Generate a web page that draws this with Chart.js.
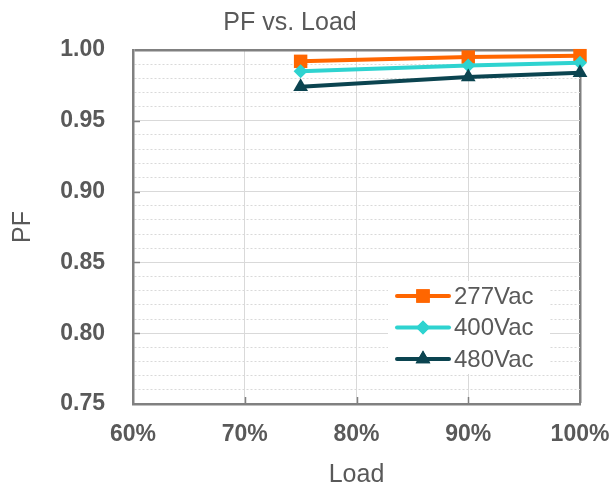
<!DOCTYPE html>
<html>
<head>
<meta charset="utf-8">
<script src="https://cdn.jsdelivr.net/npm/chart.js@4"></script>
<style>
  html, body { margin: 0; padding: 0; background: #fff; }
  #wrap { width: 609px; height: 488px; }
</style>
</head>
<body>
<div id="wrap"><canvas id="pfChart" width="609" height="488"></canvas></div>
<script>
// data
const loads = [75, 90, 100];
const pf277 = [0.992, 0.995, 0.996];
const pf400 = [0.985, 0.989, 0.991];
const pf480 = [0.974, 0.981, 0.984];
const seriesNames = ["277Vac", "400Vac", "480Vac"];

const xTicks = [60, 70, 80, 90, 100];
const yMin = 0.75, yMax = 1.00;

const FONT = "Arial, 'Liberation Sans', sans-serif";
const TEXT = "#595959";
const FRAME = "#808080";
const GRID = "#d9d9d9";

const colors = ["#ff6600", "#2ed3d0", "#0b4450"];
const markers = [
    { style: "rect", radius: 9.5 },
    { style: "rectRot", radius: 7 },
    { style: "triangle", radius: 8.5 }
];

function toPoints(vals) {
    return loads.map((x, i) => ({ x: x, y: vals[i] }));
}

const isMajor = v => Math.round(v * 100) % 5 === 0;

/* legend drawn inside the plot area, line + marker style */
const legendBox = {
    id: "legendBox",
    afterDatasetsDraw(chart) {
        const c = chart.ctx;
        c.save();
        c.fillStyle = "#fff";
        c.fillRect(388, 281, 162, 93);
        chart.data.datasets.forEach((ds, i) => {
            const y = 296 + i * 31.5;
            c.strokeStyle = ds.borderColor;
            c.lineWidth = 4;
            c.lineCap = "round";
            c.beginPath();
            c.moveTo(397, y);
            c.lineTo(449, y);
            c.stroke();
            c.fillStyle = ds.borderColor;
            Chart.helpers.drawPoint(c, {
                pointStyle: ds.pointStyle,
                radius: ds.pointRadius,
                rotation: 0,
                borderWidth: 0
            }, 423, y);
            c.fill();
            c.fillStyle = TEXT;
            c.font = "24px " + FONT;
            c.textBaseline = "middle";
            c.textAlign = "left";
            c.fillText(ds.label, 454, y + 1);
        });
        c.restore();
    }
};

/* small inward tick marks on the frame */
const frameTicks = {
    id: "frameTicks",
    beforeDatasetsDraw(chart) {
        const c = chart.ctx;
        const a = chart.chartArea;
        const xs = chart.scales.x, ys = chart.scales.y;
        c.save();
        c.strokeStyle = FRAME;
        c.lineWidth = 1.5;
        c.beginPath();
        [0.80, 0.85, 0.90, 0.95].forEach(v => {
            const py = Math.round(ys.getPixelForValue(v)) + 0.5;
            c.moveTo(a.left, py);
            c.lineTo(a.left + 7, py);
        });
        [70, 80, 90].forEach(v => {
            const px = Math.round(xs.getPixelForValue(v)) + 0.5;
            c.moveTo(px, a.bottom);
            c.lineTo(px, a.bottom - 7);
        });
        c.stroke();
        c.restore();
    }
};

const datasets = [pf277, pf400, pf480].map((vals, i) => ({
    label: seriesNames[i],
    data: toPoints(vals),
    borderColor: colors[i],
    backgroundColor: colors[i],
    borderWidth: 4,
    pointStyle: markers[i].style,
    pointRadius: markers[i].radius,
    pointHoverRadius: markers[i].radius,
    pointBorderWidth: 0,
    tension: 0,
    clip: false,
    order: 3 - i
}));

const chart = new Chart(document.getElementById("pfChart"), {
    type: "line",
    data: { datasets: datasets },
    options: {
        responsive: false,
        animation: false,
        layout: { padding: { top: 0, right: 29, bottom: 0, left: 0 } },
        plugins: {
            legend: { display: false },
            tooltip: { enabled: false },
            title: {
                display: true,
                text: "PF vs. Load",
                color: TEXT,
                font: { family: FONT, size: 25, weight: "normal" },
                padding: { top: 8, bottom: 12 }
            }
        },
        scales: {
            x: {
                type: "linear",
                min: xTicks[0],
                max: xTicks[xTicks.length - 1],
                afterFit: s => {
                    s.height = 84;
                    s.paddingLeft = 0;
                    s.paddingRight = 0;
                },
                afterBuildTicks: s => { s.ticks = xTicks.map(v => ({ value: v })); },
                ticks: {
                    padding: 17,
                    color: TEXT,
                    font: { family: FONT, size: 23, weight: "bold" },
                    callback: v => v + "%",
                    maxRotation: 0
                },
                grid: {
                    drawTicks: false,
                    color: c => c.tick.value === 100 ? FRAME : (c.tick.value === 60 ? "rgba(0,0,0,0)" : GRID),
                    lineWidth: c => c.tick.value === 100 ? 2.5 : 1
                },
                border: { display: true, color: FRAME, width: 2.5 },
                title: {
                    display: true,
                    text: "Load",
                    color: TEXT,
                    font: { family: FONT, size: 25, weight: "normal" },
                    padding: { top: 0, bottom: -2 }
                }
            },
            y: {
                min: yMin,
                max: yMax,
                afterFit: s => {
                    s.width = 133;
                    s.paddingTop = 0;
                    s.paddingBottom = 0;
                },
                ticks: {
                    stepSize: 0.01,
                    padding: 28,
                    color: TEXT,
                    font: { family: FONT, size: 23, weight: "bold" },
                    autoSkip: false,
                    callback: v => isMajor(v) ? v.toFixed(2) : ""
                },
                grid: {
                    drawTicks: false,
                    color: c => {
                        const v = c.tick.value;
                        if (Math.abs(v - 1) < 1e-6) return FRAME;
                        if (Math.abs(v - 0.75) < 1e-6) return "rgba(0,0,0,0)";
                        return GRID;
                    },
                    lineWidth: c => Math.abs(c.tick.value - 1) < 1e-6 ? 2.5 : 1
                },
                border: {
                    display: true,
                    color: FRAME,
                    width: 2.5,
                    dash: c => (c.tick && !isMajor(c.tick.value)) ? [2, 2] : []
                },
                title: {
                    display: true,
                    text: "PF",
                    color: TEXT,
                    font: { family: FONT, size: 25, weight: "normal" },
                    padding: { top: 8, bottom: 0 }
                }
            }
        }
    },
    plugins: [frameTicks, legendBox]
});
</script>
</body>
</html>
